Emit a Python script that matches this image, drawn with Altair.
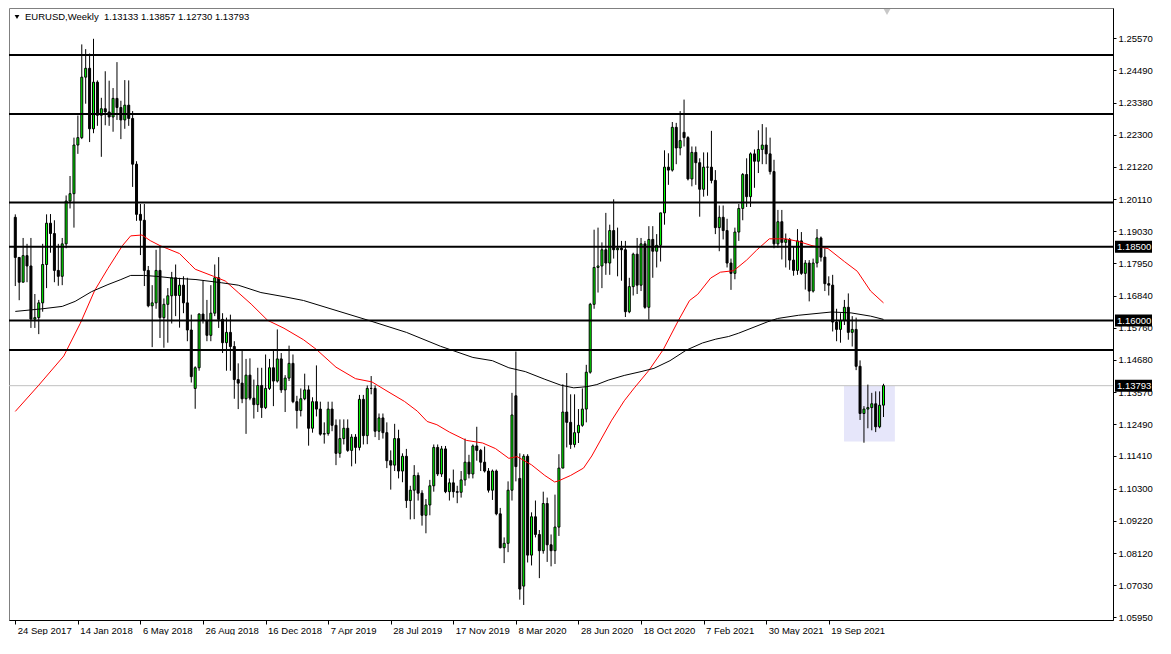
import altair as alt
import pandas as pd

# ---------------- data (weekly EURUSD candles) ----------------
opens = [
    1.1950, 1.1814, 1.1730, 1.1820, 1.1785, 1.1605, 1.1610, 1.1660, 1.1790, 1.1930,
    1.1895, 1.1770, 1.1750, 1.1860, 1.2005, 1.2030, 1.2195, 1.2220, 1.2425, 1.2455,
    1.2250, 1.2408, 1.2296, 1.2318, 1.2307, 1.2290, 1.2353, 1.2322, 1.2280, 1.2330,
    1.2285, 1.2130, 1.1960, 1.1940, 1.1770, 1.1650, 1.1660, 1.1770, 1.1610, 1.1655,
    1.1684, 1.1745, 1.1685, 1.1720, 1.1660, 1.1568, 1.1370, 1.1440, 1.1622, 1.1600,
    1.1550, 1.1625, 1.1745, 1.1604, 1.1525, 1.1560, 1.1512, 1.1400, 1.1388, 1.1335,
    1.1415, 1.1337, 1.1315, 1.1380, 1.1305, 1.1370, 1.1440, 1.1395, 1.1470, 1.1365,
    1.1405, 1.1455, 1.1325, 1.1295, 1.1335, 1.1365, 1.1235, 1.1325, 1.1300, 1.1215,
    1.1217, 1.1300, 1.1245, 1.1150, 1.1200, 1.1235, 1.1160, 1.1205, 1.1170, 1.1333,
    1.1210, 1.1370, 1.1370, 1.1225, 1.1270, 1.1220, 1.1125, 1.1110, 1.1200, 1.1090,
    1.1140, 1.0990, 1.1025, 1.1075, 1.1015, 1.0940, 1.0975, 1.1040, 1.1170, 1.1080,
    1.1165, 1.1020, 1.1050, 1.1020, 1.1018, 1.1060, 1.1120, 1.1080, 1.1175, 1.1160,
    1.1120, 1.1090, 1.1025, 1.1090, 1.0945, 1.0830, 1.0845, 1.1025, 1.1345, 1.1065,
    1.0700, 1.1140, 1.0805, 1.0935, 1.0875, 1.0820, 1.0980, 1.0840, 1.0820, 1.0900,
    1.1100, 1.1290, 1.1255, 1.1180, 1.1220, 1.1245, 1.1300, 1.1425, 1.1655, 1.1780,
    1.1785, 1.1840, 1.1795, 1.1905, 1.1840, 1.1845, 1.1840, 1.1630, 1.1715, 1.1825,
    1.1720, 1.1860, 1.1645, 1.1875, 1.1835, 1.1855, 1.1965, 1.2120, 1.2110, 1.2255,
    1.2185, 1.2238, 1.2220, 1.2080, 1.2170, 1.2135, 1.2045, 1.2120, 1.2120, 1.2075,
    1.1915, 1.1950, 1.1905, 1.1795, 1.1760, 1.1900, 1.1980, 1.2095, 1.2020, 1.2165,
    1.2140, 1.2180, 1.2195, 1.2165, 1.2105, 1.1860, 1.1935, 1.1865, 1.1875, 1.1805,
    1.1770, 1.1870, 1.1760, 1.1795, 1.1700, 1.1795, 1.1880, 1.1815, 1.1725, 1.1720,
    1.1595, 1.1570, 1.1600, 1.1645, 1.1560, 1.1570, 1.1445, 1.1285, 1.1300, 1.1305,
    1.1318, 1.1240, 1.13133,
]
highs = [
    1.1960, 1.1815, 1.1880, 1.1860, 1.1880, 1.1690, 1.1670, 1.1860, 1.1960, 1.1961,
    1.1940, 1.1860, 1.1880, 1.2024, 1.2090, 1.2220, 1.2295, 1.2536, 1.2520, 1.2505,
    1.2555, 1.2414, 1.2355, 1.2445, 1.2413, 1.2388, 1.2476, 1.2345, 1.2415, 1.2414,
    1.2310, 1.2140, 1.1995, 1.1995, 1.1785, 1.1720, 1.1840, 1.1852, 1.1675, 1.1710,
    1.1765, 1.1790, 1.1745, 1.1750, 1.1745, 1.1620, 1.1445, 1.1625, 1.1735, 1.1670,
    1.1720, 1.1790, 1.1815, 1.1625, 1.1610, 1.1620, 1.1530, 1.1455, 1.1500, 1.1470,
    1.1472, 1.1400, 1.1440, 1.1440, 1.1485, 1.1470, 1.1498, 1.1570, 1.1490, 1.1415,
    1.1515, 1.1485, 1.1345, 1.1370, 1.1420, 1.1380, 1.1340, 1.1448, 1.1325, 1.1255,
    1.1325, 1.1325, 1.1265, 1.1265, 1.1265, 1.1265, 1.1215, 1.1215, 1.1348, 1.1348,
    1.1380, 1.1412, 1.1380, 1.1285, 1.1285, 1.1255, 1.1160, 1.1250, 1.1230, 1.1150,
    1.1165, 1.1040, 1.1110, 1.1085, 1.1025, 1.0995, 1.1060, 1.1180, 1.1180, 1.1175,
    1.1175, 1.1065, 1.1095, 1.1040, 1.1090, 1.1200, 1.1145, 1.1180, 1.1240, 1.1165,
    1.1173, 1.1100, 1.1095, 1.1095, 1.0965, 1.0865, 1.1055, 1.1355, 1.1495, 1.1150,
    1.1147, 1.1147, 1.0950, 1.0990, 1.0890, 1.1020, 1.1000, 1.0875, 1.1010, 1.1147,
    1.1384, 1.1422, 1.1350, 1.1350, 1.1300, 1.1370, 1.1450, 1.1660, 1.1908, 1.1915,
    1.1865, 1.1965, 1.1925, 1.2011, 1.1915, 1.1870, 1.1870, 1.1745, 1.1830, 1.1880,
    1.1880, 1.1870, 1.1920, 1.1920, 1.1893, 1.1965, 1.2177, 1.2167, 1.2273, 1.2270,
    1.2310, 1.2349, 1.2225, 1.2190, 1.2190, 1.2150, 1.2170, 1.2170, 1.2243, 1.2110,
    1.1990, 1.1990, 1.1945, 1.1810, 1.1915, 1.1995, 1.2100, 1.2150, 1.2170, 1.2180,
    1.2245, 1.2266, 1.2255, 1.2220, 1.2145, 1.1975, 1.1975, 1.1895, 1.1880, 1.1850,
    1.1910, 1.1900, 1.1805, 1.1805, 1.1810, 1.1910, 1.1885, 1.1845, 1.1750, 1.1755,
    1.1640, 1.1625, 1.1670, 1.1692, 1.1615, 1.1610, 1.1465, 1.1310, 1.1383, 1.1355,
    1.1360, 1.1360, 1.13857,
]
lows = [
    1.1717, 1.1669, 1.1730, 1.1730, 1.1575, 1.1575, 1.1554, 1.1630, 1.1710, 1.1830,
    1.1730, 1.1718, 1.1720, 1.1845, 1.1980, 1.1915, 1.2165, 1.2215, 1.2335, 1.2205,
    1.2235, 1.2260, 1.2155, 1.2262, 1.2260, 1.2240, 1.2280, 1.2215, 1.2250, 1.2260,
    1.2053, 1.1938, 1.1822, 1.1717, 1.1645, 1.1510, 1.1640, 1.1541, 1.1508, 1.1525,
    1.1590, 1.1615, 1.1576, 1.1625, 1.1530, 1.1390, 1.1301, 1.1430, 1.1590, 1.1530,
    1.1530, 1.1615, 1.1575, 1.1490, 1.1430, 1.1430, 1.1335, 1.1300, 1.1320, 1.1216,
    1.1330, 1.1268, 1.1290, 1.1270, 1.1300, 1.1365, 1.1310, 1.1390, 1.1355, 1.1290,
    1.1395, 1.1320, 1.1234, 1.1275, 1.1330, 1.1176, 1.1220, 1.1275, 1.1210, 1.1183,
    1.1210, 1.1225, 1.1110, 1.1135, 1.1180, 1.1155, 1.1106, 1.1115, 1.1160, 1.1180,
    1.1181, 1.1350, 1.1205, 1.1195, 1.1200, 1.1100, 1.1027, 1.1090, 1.1065, 1.1052,
    1.0965, 1.0926, 1.0927, 1.0990, 1.0905, 1.0879, 1.0940, 1.1020, 1.1073, 1.1070,
    1.1015, 1.0990, 1.1000, 1.0981, 1.1000, 1.1040, 1.1065, 1.1065, 1.1125, 1.1090,
    1.1085, 1.1017, 1.0992, 1.0940, 1.0828, 1.0778, 1.0815, 1.0990, 1.1055, 1.0654,
    1.0636, 1.0780, 1.0770, 1.0865, 1.0727, 1.0810, 1.0782, 1.0767, 1.0775, 1.0870,
    1.1100, 1.1170, 1.1165, 1.1170, 1.1185, 1.1240, 1.1255, 1.1420, 1.1640, 1.1695,
    1.1710, 1.1755, 1.1755, 1.1810, 1.1750, 1.1735, 1.1612, 1.1625, 1.1685, 1.1690,
    1.1700, 1.1640, 1.1603, 1.1745, 1.1780, 1.1800, 1.1925, 1.2060, 1.2105, 1.2130,
    1.2160, 1.2190, 1.2075, 1.2055, 1.2060, 1.1952, 1.2020, 1.2023, 1.2065, 1.1893,
    1.1835, 1.1875, 1.1780, 1.1704, 1.1740, 1.1870, 1.1940, 1.1985, 1.1985, 1.2050,
    1.2100, 1.2130, 1.2130, 1.2095, 1.1845, 1.1847, 1.1807, 1.1780, 1.1772, 1.1752,
    1.1755, 1.1755, 1.1705, 1.1665, 1.1695, 1.1780, 1.1800, 1.1700, 1.1685, 1.1563,
    1.1530, 1.1525, 1.1585, 1.1535, 1.1512, 1.1432, 1.1263, 1.1186, 1.1235, 1.1228,
    1.1222, 1.1235, 1.12730,
]
closes = [
    1.1814, 1.1730, 1.1820, 1.1785, 1.1605, 1.1610, 1.1660, 1.1790, 1.1930, 1.1895,
    1.1770, 1.1750, 1.1860, 1.2005, 1.2030, 1.2195, 1.2220, 1.2425, 1.2455, 1.2250,
    1.2408, 1.2296, 1.2318, 1.2307, 1.2290, 1.2353, 1.2322, 1.2280, 1.2330, 1.2285,
    1.2130, 1.1960, 1.1940, 1.1770, 1.1650, 1.1660, 1.1770, 1.1610, 1.1655, 1.1684,
    1.1745, 1.1685, 1.1720, 1.1660, 1.1568, 1.1410, 1.1440, 1.1622, 1.1600, 1.1550,
    1.1625, 1.1745, 1.1604, 1.1525, 1.1560, 1.1512, 1.1400, 1.1388, 1.1335, 1.1415,
    1.1337, 1.1315, 1.1380, 1.1305, 1.1370, 1.1440, 1.1395, 1.1470, 1.1365, 1.1405,
    1.1455, 1.1325, 1.1295, 1.1335, 1.1365, 1.1235, 1.1325, 1.1300, 1.1215, 1.1217,
    1.1300, 1.1245, 1.1150, 1.1200, 1.1235, 1.1160, 1.1205, 1.1170, 1.1333, 1.1210,
    1.1370, 1.1370, 1.1225, 1.1270, 1.1220, 1.1125, 1.1110, 1.1200, 1.1090, 1.1140,
    1.0990, 1.1025, 1.1075, 1.1015, 1.0940, 1.0975, 1.1040, 1.1170, 1.1080, 1.1165,
    1.1020, 1.1050, 1.1020, 1.1018, 1.1060, 1.1120, 1.1080, 1.1175, 1.1160, 1.1120,
    1.1090, 1.1025, 1.1090, 1.0945, 1.0830, 1.0845, 1.1025, 1.1280, 1.1105, 1.0690,
    1.1140, 1.0805, 1.0935, 1.0875, 1.0820, 1.0980, 1.0840, 1.0820, 1.0900, 1.1100,
    1.1290, 1.1255, 1.1180, 1.1220, 1.1245, 1.1300, 1.1425, 1.1655, 1.1780, 1.1785,
    1.1840, 1.1795, 1.1905, 1.1840, 1.1845, 1.1840, 1.1630, 1.1715, 1.1825, 1.1720,
    1.1860, 1.1645, 1.1875, 1.1835, 1.1855, 1.1965, 1.2120, 1.2110, 1.2255, 1.2185,
    1.2210, 1.2220, 1.2080, 1.2170, 1.2135, 1.2045, 1.2120, 1.2120, 1.2075, 1.1915,
    1.1950, 1.1905, 1.1795, 1.1760, 1.1900, 1.1980, 1.2095, 1.2020, 1.2165, 1.2140,
    1.2180, 1.2195, 1.2165, 1.2105, 1.1860, 1.1935, 1.1865, 1.1875, 1.1805, 1.1770,
    1.1870, 1.1760, 1.1795, 1.1700, 1.1795, 1.1880, 1.1815, 1.1725, 1.1720, 1.1595,
    1.1570, 1.1600, 1.1645, 1.1560, 1.1570, 1.1445, 1.1285, 1.1300, 1.1305, 1.1318,
    1.1240, 1.1313, 1.13793,
]

# moving averages (red = fast, black = slow), read at bar positions
red_idx = [0, 6, 12.4, 16.6, 20.3, 23.7, 27.4, 29.5, 32.4, 34.5,
           37, 42, 44.5, 46, 50.7, 53.7, 57, 60.3, 64.5, 68.7,
           73.7, 77, 82, 87, 91.2, 95.3, 99.5, 102.8, 105.3, 107.8,
           111, 115.3, 119.5, 122.8, 126.2, 128.3, 132, 135.4, 137.9, 138.8,
           142, 145.3, 147.4, 152.4, 155.7, 158.3, 162, 165.7, 169.5, 172.4,
           174.5, 177.8, 180.3, 183.7, 187, 189.5, 192.8, 197, 200.3, 203.7,
           207.8, 212, 215.3, 218.7, 222]
red_val = [1.1292, 1.1381, 1.1480, 1.1590, 1.1702, 1.1777, 1.1854, 1.1887, 1.1890, 1.1871,
           1.1854, 1.1827, 1.1794, 1.1774, 1.1750, 1.1734, 1.1695, 1.1656, 1.1601, 1.1574,
           1.1535, 1.1502, 1.1442, 1.1403, 1.1392, 1.1359, 1.1326, 1.1293, 1.1258, 1.1247,
           1.1222, 1.1194, 1.1185, 1.1166, 1.1133, 1.1139, 1.1111, 1.1075, 1.1053, 1.1056,
           1.1075, 1.1100, 1.1141, 1.1260, 1.1328, 1.1372, 1.1431, 1.1502, 1.1599, 1.1668,
           1.1689, 1.1744, 1.1764, 1.1769, 1.1805, 1.1838, 1.1877, 1.1877, 1.1868, 1.1854,
           1.1844, 1.1800, 1.1767, 1.1700, 1.1660]
blk_idx = [0, 7, 12, 15.3, 19.5, 23.7, 27, 29.5, 32.8, 36,
           40.3, 46.2, 52.8, 57, 62.8, 68.7, 73.7, 90, 100, 108.7,
           117, 122, 126.2, 130.4, 135.4, 139.5, 142.8, 146.2, 148.7, 151.6,
           155.7, 160, 163.3, 167.4, 171.6, 175.7, 179.1, 182.4, 184.9, 192.4,
           194.9, 200.3, 208.7, 213.7, 218.7, 222]
blk_val = [1.1631, 1.1640, 1.1648, 1.1665, 1.1698, 1.1722, 1.1739, 1.1753, 1.1753, 1.1750,
           1.1744, 1.1739, 1.1728, 1.1720, 1.1695, 1.1681, 1.1668, 1.1602, 1.1560, 1.1513,
           1.1475, 1.1464, 1.1440, 1.1427, 1.1401, 1.1381, 1.1372, 1.1376, 1.1383, 1.1398,
           1.1414, 1.1427, 1.1438, 1.1464, 1.1500, 1.1524, 1.1537, 1.1546, 1.1557, 1.1596,
           1.1607, 1.1618, 1.1629, 1.1626, 1.1615, 1.1604]

date_labels = ["24 Sep 2017", "14 Jan 2018", "6 May 2018", "26 Aug 2018", "16 Dec 2018",
               "7 Apr 2019", "28 Jul 2019", "17 Nov 2019", "8 Mar 2020", "28 Jun 2020",
               "18 Oct 2020", "7 Feb 2021", "30 May 2021", "19 Sep 2021"]
date_pos = [0, 16, 32, 48, 64, 80, 96, 112, 128, 144, 160, 176, 192, 208]
price_ticks = [1.25570, 1.24490, 1.23380, 1.22300, 1.21220, 1.20110, 1.19030, 1.17950,
               1.16840, 1.15760, 1.14680, 1.13570, 1.12490, 1.11410, 1.10300, 1.09220,
               1.08120, 1.07030, 1.05950]
levels = [1.2500, 1.2300, 1.2000, 1.1850, 1.1600, 1.1500]
boxed_vals = [1.18500, 1.16000, 1.13793]
boxed_text = ["1.18500", "1.16000", "1.13793"]
last_price = 1.13793
zone = {"x1": [211.9], "x2": [224.9], "y1": [1.1378], "y2": [1.1190]}
header = "EURUSD,Weekly\u00a0 1.13133 1.13857 1.12730 1.13793"

# ---------------- layout ----------------
W, H = 1104, 612
FONT = "Liberation Sans"
FS = 9.5
xs = alt.Scale(domain=[-0.33, 279.4], nice=False, zero=False)
ys = alt.Scale(domain=[1.05851, 1.26594], nice=False, zero=False)

n = len(closes)
df = pd.DataFrame({"i": list(range(n)), "o": opens, "h": highs, "l": lows, "c": closes})
df["dir"] = ["up" if c >= o else "down" for o, c in zip(opens, closes)]

label_expr = "[" + ",".join("'" + d + "'" for d in date_labels) + "][round(datum.value/16)]"

x_axis = alt.Axis(values=date_pos, labelExpr=label_expr, title=None, orient="bottom",
                  tickSize=4, labelAlign="left", labelOffset=2, labelPadding=1,
                  labelFlush=False, labelOverlap=False, labelBound=False,
                  domainColor="black", tickColor="black", grid=False)
y_axis = alt.Axis(values=price_ticks, format=".5f", title=None, orient="right",
                  tickSize=3, labelPadding=2, labelFlush=False, labelOverlap=False,
                  labelBound=False, domainColor="black", tickColor="black", grid=False)


def X(field):
    return alt.X(field, scale=xs, axis=x_axis)


def Y(field):
    return alt.Y(field, scale=ys, axis=y_axis)


zone_layer = alt.Chart(pd.DataFrame(zone)).mark_rect(color="#e6e6fa").encode(
    x=X("x1:Q"), x2="x2:Q", y=Y("y1:Q"), y2="y2:Q")

price_line = alt.Chart(pd.DataFrame({"y": [last_price]})).mark_rule(
    color="#c0c0c0", strokeWidth=1).encode(y=Y("y:Q"))

wicks = alt.Chart(df).mark_rule(color="black", strokeWidth=1).encode(
    x=X("i:Q"), y=Y("l:Q"), y2="h:Q")

bodies = alt.Chart(df).mark_bar(size=2, stroke="black", strokeWidth=1).encode(
    x=X("i:Q"), y=Y("o:Q"), y2="c:Q",
    fill=alt.Fill("dir:N", scale=alt.Scale(domain=["up", "down"], range=["#00ff00", "#000000"]),
                  legend=None))

red_line = alt.Chart(pd.DataFrame({"i": red_idx, "v": red_val})).mark_line(
    color="#ff0000", strokeWidth=1).encode(x=X("i:Q"), y=Y("v:Q"))

blk_line = alt.Chart(pd.DataFrame({"i": blk_idx, "v": blk_val})).mark_line(
    color="#000000", strokeWidth=1).encode(x=X("i:Q"), y=Y("v:Q"))

level_lines = alt.Chart(pd.DataFrame({"y": levels})).mark_rule(
    color="black", strokeWidth=2).encode(y=Y("y:Q"))

box_path = "M-1,-0.324L1,-0.324L1,0.324L-1,0.324Z"
boxes_df = pd.DataFrame({"y": boxed_vals, "t": boxed_text})
boxes = alt.Chart(boxes_df).mark_point(shape=box_path, size=1369, filled=True,
                                       color="black", opacity=1).encode(
    x=alt.value(W + 20.5), y=Y("y:Q"))
box_text = alt.Chart(boxes_df).mark_text(align="left", baseline="middle", color="white",
                                         font=FONT, fontSize=FS).encode(
    x=alt.value(W + 4), y=Y("y:Q"), text="t:N")

head_tri = alt.Chart(pd.DataFrame({"a": [0]})).mark_point(
    shape="triangle-down", filled=True, color="black", opacity=1, size=22).encode(
    x=alt.value(8), y=alt.value(9))
head_text = alt.Chart(pd.DataFrame({"t": [header]})).mark_text(
    align="left", baseline="middle", font=FONT, fontSize=FS, color="black").encode(
    x=alt.value(16), y=alt.value(9), text="t:N")

shift_marker = alt.Chart(pd.DataFrame({"i": [222.9]})).mark_point(
    shape="triangle-down", filled=True, color="#c8c8c8", opacity=1, size=45).encode(
    x=X("i:Q"), y=alt.value(4))

chart = alt.layer(
    zone_layer, price_line, wicks, bodies, red_line, blk_line, level_lines,
    boxes, box_text, head_tri, head_text, shift_marker
).properties(width=W, height=H, padding=0, background="white").configure_view(
    stroke="#808080", strokeWidth=1
).configure_axis(
    labelFont=FONT, labelFontSize=FS, labelColor="black", grid=False
)

chart.save("out.html", embed_options={"renderer": "svg", "actions": False})
